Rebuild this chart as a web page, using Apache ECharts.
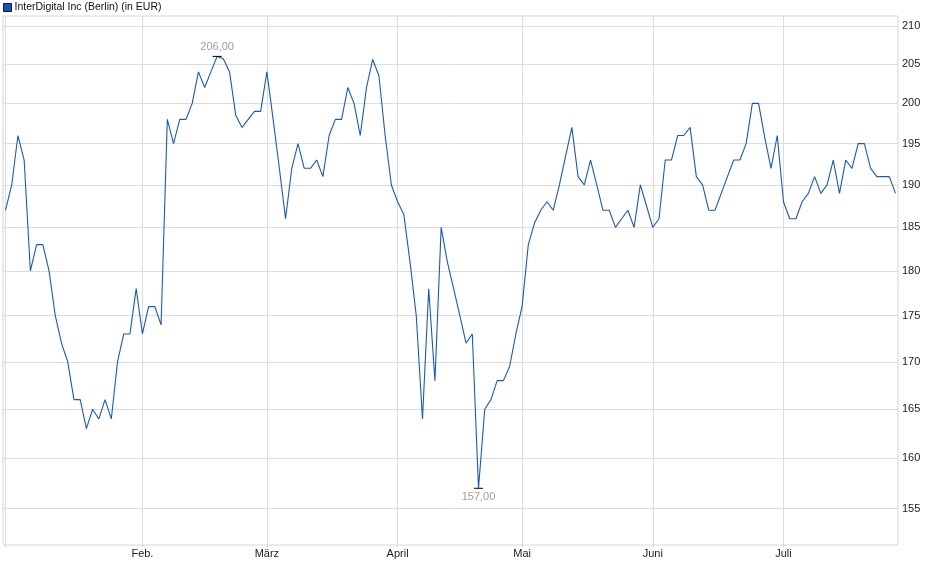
<!DOCTYPE html>
<html>
<head>
<meta charset="UTF-8">
<title>InterDigital Inc (Berlin)</title>
<script type="text/javascript" src="https://cdn.jsdelivr.net/npm/echarts@6/dist/echarts.min.js"></script>
<style>
	html,body{margin:0;padding:0;background:#fff;}
</style>
</head>
<body>
	<div id="show" style="width:940px;height:579px"></div>
	<script type="text/javascript">
		// Schlusskurse je Handelstag (2. Jan. bis 25. Juli), in EUR
		var kurse=[
			187,190,196,193,180,183,183,180,175,172,170,166,166,163,165,164,166,164,170,173,173,178,
			173,176,176,174,198,195,198,198,200,204,202,204,206,205.7,204,198.5,197,198,199,199,
			204,198,192,186,192,195,192,192,193,191,196,198,198,202,200,196,202,205.6,203.5,196,190,
			188,186.5,181,175,164,178,168,185,181,178,175,172,173,157,165,166,168,168,169.5,173,
			176,183,185.5,187,188,187,190,193.5,197,191,190,193,190,187,187,185,186,187,185,190,187.5,
			185,186,193,193,196,196,197,191,190,187,187,189,191,193,193,195,200,200,195.7,192,196,
			188,186,186,188,189,191,189,190,193,189,193,192,195,195,192,191,191,191,189
		];
		// erster Handelstag je Monat (Index in kurse)
		var monatsStart=[22,42,63,83,104,125];
		var monatsNamen=['Feb.','März','April','Mai','Juni','Juli'];
		var yTicks=[155,160,165,170,175,180,185,190,195,200,205,210];

		var punkte=[];
		for(var i=0;i<kurse.length;i++){
			punkte.push([i,kurse[i]]);
		}

		var schrift='"Liberation Sans", Arial, sans-serif';
		var myCharts=echarts.init(document.getElementById('show'));
		myCharts.setOption({
			animation:false,
			textStyle:{fontFamily:schrift},
			legend:{
				left:3,
				top:2,
				padding:0,
				itemWidth:8,
				itemHeight:8,
				itemGap:5,
				icon:'rect',
				textStyle:{fontSize:10.5,color:'#111',fontFamily:schrift,padding:[0,0,0,-2]},
				data:[{name:'InterDigital Inc (Berlin) (in EUR)',itemStyle:{color:'#1c4fb0',borderColor:'#0b1d4a',borderWidth:1}}]
			},
			grid:{
				left:3,
				right:42,
				top:16,
				bottom:34,
				show:true,
				borderColor:'#d6d6d6',
				borderWidth:1
			},
			xAxis:{
				type:'value',
				min:-0.4,
				max:kurse.length-0.6,
				axisLine:{show:false},
				axisTick:{show:true,length:2,customValues:[0].concat(monatsStart),lineStyle:{color:'#cfcfcf'}},
				splitLine:{show:true,lineStyle:{color:'#dcdcdc',width:1}},
				axisLabel:{
					customValues:monatsStart,
					margin:3,
					fontSize:11,
					color:'#222',
					fontFamily:schrift,
					formatter:function(v){
						var k=monatsStart.indexOf(Math.round(v));
						return k>=0?monatsNamen[k]:'';
					}
				}
			},
			yAxis:{
				type:'log',
				logBase:10,
				position:'right',
				min:151.5,
				max:211.3,
				axisLine:{show:false},
				axisTick:{show:false,customValues:yTicks},
				splitLine:{show:true,lineStyle:{color:'#dcdcdc',width:1}},
				axisLabel:{
					customValues:yTicks,
					margin:4,
					fontSize:11,
					color:'#222',
					fontFamily:schrift,
					formatter:function(v){return String(Math.round(v));}
				}
			},
			series:[{
				name:'InterDigital Inc (Berlin) (in EUR)',
				type:'line',
				data:punkte,
				showSymbol:false,
				symbol:'none',
				lineStyle:{color:'#1858c4',width:1.1},
				itemStyle:{color:'#1c4fb0'},
				markPoint:{
					symbol:'rect',
					symbolSize:[9,1],
					itemStyle:{color:'#000'},
					label:{
						fontSize:11,
						color:'#a39e98',
						fontFamily:schrift,
						formatter:function(p){return p.value.toFixed(2).replace('.',',');}
					},
					data:[
						{type:'max',valueDim:'y',label:{position:'top',distance:3}},
						{type:'min',valueDim:'y',label:{position:'bottom',distance:3}}
					]
				}
			}]
		});
	</script>
</body>
</html>
